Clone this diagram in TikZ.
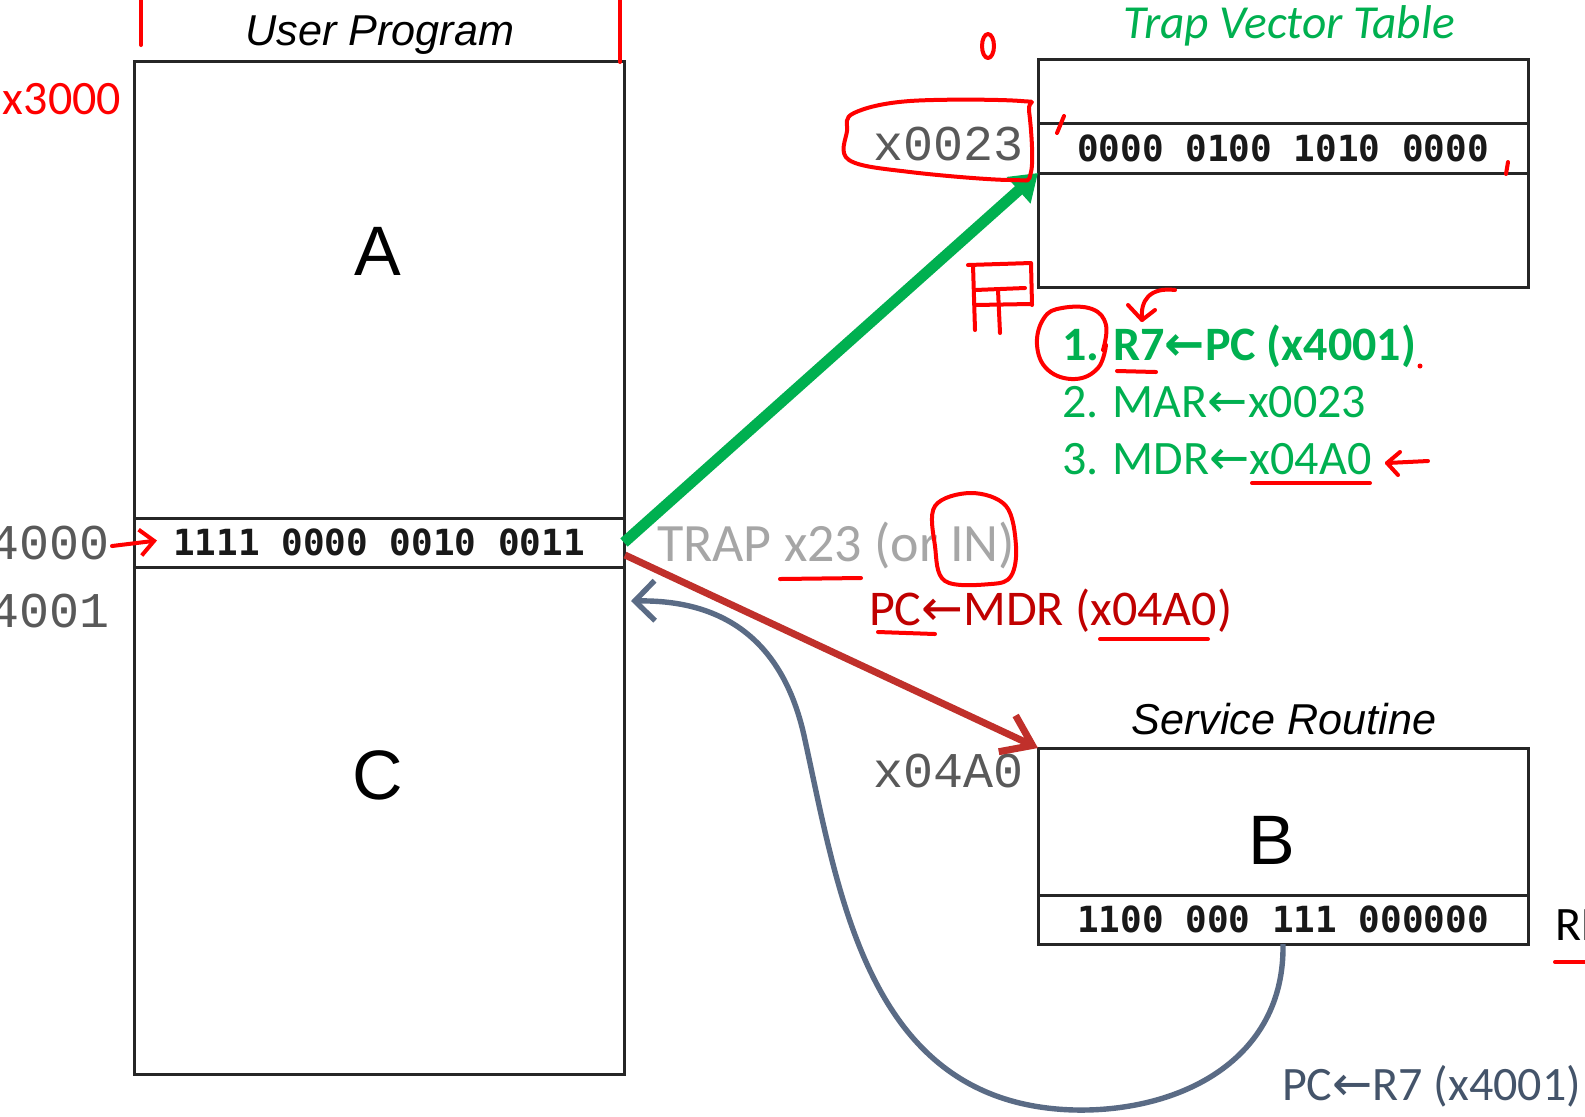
\documentclass[tikz,border=0pt]{standalone}
\usepackage{fontspec}
\usetikzlibrary{arrows.meta}
\newfontfamily\arialf{Liberation Sans}
\newfontfamily\calf{Carlito}
\newfontfamily\courf{Liberation Mono}
\newfontfamily\dmono{DejaVu Sans Mono}
\newfontfamily\djv{DejaVu Sans}
\definecolor{tgreen}{HTML}{00B050}
\definecolor{arrred}{RGB}{192,48,43}
\definecolor{txtred}{HTML}{C00000}
\definecolor{bgray}{RGB}{90,107,133}
\definecolor{tbgray}{HTML}{44546A}
\definecolor{lgray}{HTML}{A6A6A6}
\definecolor{hred}{HTML}{FF0000}
\newcommand\larr{{\djv\char"2190}}
\newcommand\fs[1]{\fontsize{#1}{#1}\selectfont}
\begin{document}
\begin{tikzpicture}[x=0.5pt,y=-0.5pt,
  box/.style={draw=black!85, line width=1.5pt, inner sep=0pt, outer sep=0pt},
  lbl/.style={inner sep=0pt, outer sep=0pt},
  hand/.style={draw=hred, line width=2pt, line cap=round, line join=round},
  title/.style={lbl, anchor=base, font=\arialf\itshape\fs{21.6}},
  big/.style={lbl, anchor=base, font=\arialf\fs{35}},
  addr/.style={lbl, anchor=base east, font=\courf\fs{25}, text=black!65},
  bits/.style={font=\dmono\bfseries\fs{18}, text=black!90},
  stepline/.style={lbl, anchor=base west, text=tgreen, font=\calf\fs{24}},
]
\fill[white] (0,0) rectangle (1585,1116);
\useasboundingbox (0,0) rectangle (1585,1116);

% ---- User program
\node[box, minimum width=245pt, minimum height=506.5pt] (up) at (379,567.5) {};
\node[box, minimum width=245pt, minimum height=24.5pt, bits] (inst) at (379,542.5) {1111 0000 0010 0011};
\node[title] (uptitle) at (380,45.5) {User Program};
\node[big] (A) at (378,275) {A};
\node[big] (C) at (378,799) {C};
\node[addr] (a4000) at (110,559) {x4000};
\node[addr] (a4001) at (110,627) {x4001};

% ---- Trap vector table
\node[box, minimum width=245pt, minimum height=114pt] (tvt) at (1283,173) {};
\node[box, minimum width=245pt, minimum height=25pt, bits] (tvrow) at (1283,148) {0000 0100 1010 0000};
\node[lbl, anchor=base, text=tgreen, font=\calf\itshape\fs{23.7}] (tvttitle) at (1289,38) {Trap Vector Table};
\node[addr] (a0023) at (1024,160) {x0023};

% ---- Service routine
\node[box, minimum width=245pt, minimum height=98pt] (srv) at (1283,846) {};
\node[box, minimum width=245pt, minimum height=24.5pt, bits] (ret) at (1283,919.5) {1100 000 111 000000};
\node[title] (srvtitle) at (1284,734) {Service Routine};
\node[big] (B) at (1272,864.5) {B};
\node[addr] (a04A0) at (1024,787) {x04A0};
\node[lbl, anchor=base west, font=\calf\fs{24}] (rettxt) at (1555,940) {RET};

% ---- texts
\node[stepline, font=\calf\bfseries\fs{24}] (s1) at (1062,360) {1. R7{\djv\bfseries\char"2190}PC (x4001)};
\node[stepline] (s2) at (1062,417.5) {2. MAR\larr x0023};
\node[stepline] (s3) at (1062,474) {3. MDR\larr x04A0};
\node[lbl, anchor=base west, text=lgray, font=\calf\fs{27}] (trap) at (657,561) {TRAP x23 (or IN)};
\node[lbl, anchor=base west, text=txtred, font=\calf\fs{25}] (pcmdr) at (869,625) {PC\larr MDR (x04A0)};
\node[lbl, anchor=base west, text=tbgray, font=\calf\fs{24}] (pcr7) at (1282,1100) {PC\larr R7 (x4001)};

% ---- connectors
\coordinate (rs) at (625,555);
\coordinate (retin) at (631,601);
\draw[line width=5.5pt, tgreen, -{Triangle[length=13pt,width=17pt]}] (inst.east) -- (tvrow.south west);
\draw[line width=3.5pt, arrred, -{Straight Barb[length=14pt,width=20pt]}] (rs) -- (srv.north west);
\draw[line width=2.7pt, bgray, -{Straight Barb[length=10pt,width=20pt]}] (ret.south)
  .. controls (1285,1060) and (1180,1112) .. (1075,1110)
  .. controls (870,1105) and (840,900) .. (805,740)
  .. controls (780,620) and (700,600) .. (retin);

% ---- handwritten red annotations
\draw[hand] (141,0) -- (141,45);
\draw[hand] (620,0) -- (620,62);
\node[lbl, anchor=base east, text=hred, font=\calf\fs{24}] (h3000) at (121,114) {x3000};
\draw[hand] (988,46) ellipse (6 and 12);
\draw[hand] plot[smooth cycle, tension=0.6] coordinates {(854,113) (910,101) (1021,101) (1029,111) (1031,172) (1011,180) (910,172) (849,160) (847,131)};
\draw[hand] (1057,133) -- (1064,116);
\draw[hand] (1506,174) -- (1508,162);
% FF box
\draw[hand] (968,265) -- (1031,263) -- (1032,305);
\draw[hand] (975,290) -- (1025,288);
\draw[hand] (975,305) -- (1030,304);
\draw[hand] (973,265) -- (975,330);
\draw[hand] (998,290) -- (1000,333);
% curved arrow over R7
\draw[hand] (1175,290) .. controls (1150,287) and (1140,300) .. (1142,320);
\draw[hand] (1128,305) -- (1142,320) -- (1155,310);
% circle round "1."
\draw[hand] plot[smooth, tension=0.7] coordinates {(1103,350) (1106,325) (1092,309) (1062,308) (1044,318) (1037,345) (1048,370) (1075,379) (1098,368) (1106,345)};
\draw[hand] (1117,371) -- (1156,372);
\fill[hred] (1420,366) circle (2.5);
\draw[hand] (1252,483) -- (1370,483);
\draw[hand] (1428,461) -- (1387,463);
\draw[hand] (1400,452) -- (1387,463) -- (1398,475);
% x4000 arrow
\draw[hand, -{Straight Barb[length=7pt,width=13pt]}] (a4000.base east) ++(2,-13) coordinate (h4s) -- ([xshift=11.5pt,yshift=1pt]inst.west);
\draw[hand] (780,579) -- (861,578);
\draw[hand] plot[smooth cycle, tension=0.6] coordinates {(935,506) (971,493) (1006,506) (1016,546) (1011,576) (991,584) (945,581) (935,546)};
\draw[hand] (878,632) -- (935,634);
\draw[hand] (1100,639) -- (1208,639);
\draw[hand] (1555,962) -- (1585,962);
\end{tikzpicture}
\end{document}
